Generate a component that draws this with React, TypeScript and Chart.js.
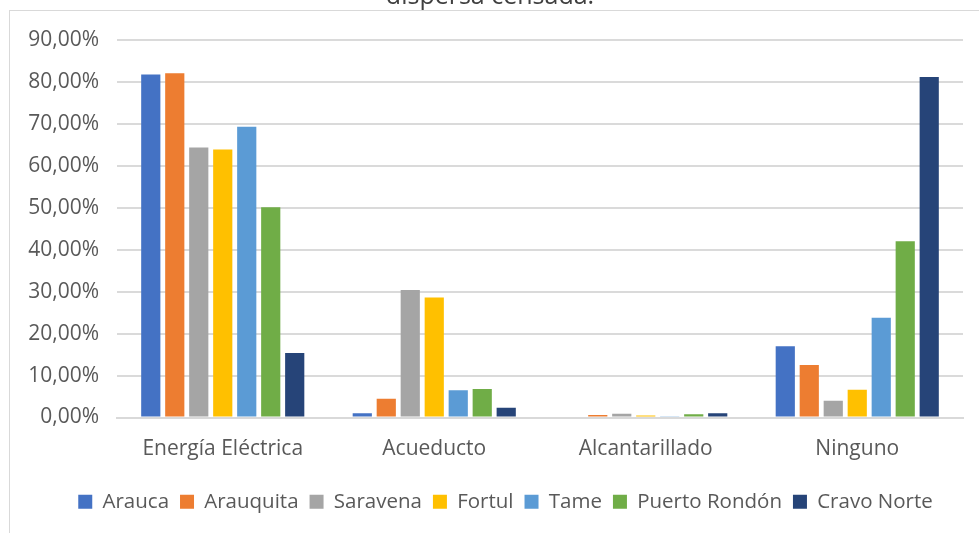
import React, { useEffect, useRef } from "react";
import { Chart, registerables } from "chart.js";

Chart.register(...registerables);

const categories = ["Energía Eléctrica", "Acueducto", "Alcantarillado", "Ninguno"];
const seriesNames = ["Arauca", "Arauquita", "Saravena", "Fortul", "Tame", "Puerto Rondón", "Cravo Norte"];
const arauca = [81.8, 1.0, 0.0, 17.0];
const arauquita = [82.1, 4.5, 0.6, 12.5];
const saravena = [64.4, 30.4, 0.9, 4.0];
const fortul = [63.9, 28.6, 0.5, 6.6];
const tame = [69.3, 6.5, 0.3, 23.8];
const puertoRondon = [50.1, 6.8, 0.8, 42.0];
const cravoNorte = [15.4, 2.3, 1.0, 81.2];
const seriesValues = [arauca, arauquita, saravena, fortul, tame, puertoRondon, cravoNorte];
const colors = ["#4472C4", "#ED7D31", "#A5A5A5", "#FFC000", "#5B9BD5", "#70AD47", "#264478"];
const titleText = "dispersa censada.";

const FONT = "'Open Sans', sans-serif";
const TEXT = "#595959";

export default function App() {
  const ref = useRef<HTMLCanvasElement | null>(null);
  useEffect(() => {
    if (!ref.current) return;
    const titlePlugin = {
      id: "cutTitle",
      afterDraw(chart: any) {
        const ctx = chart.ctx;
        ctx.save();
        ctx.font = `25px ${FONT}`;
        ctx.fillStyle = "#404040";
        ctx.textAlign = "center";
        ctx.textBaseline = "alphabetic";
        ctx.fillText(titleText, 490, 4);
        ctx.restore();
      },
    };
    const legendShift = {
      id: "legendShift",
      afterLayout(chart: any) {
        const l = chart.legend;
        if (l) {
          l.left += 24;
          l.right += 24;
        }
      },
    };
    const chart = new Chart(ref.current, {
      type: "bar",
      data: {
        labels: categories,
        datasets: seriesNames.map((n, i) => ({
          label: n,
          data: seriesValues[i],
          backgroundColor: colors[i],
          borderWidth: 0,
          categoryPercentage: 0.794,
          barPercentage: 0.8,
        })),
      },
      options: {
        animation: false,
        responsive: false,
        maintainAspectRatio: false,
        layout: { padding: { top: 40, left: 0, right: 16, bottom: 11 } },
        plugins: {
          title: { display: false },
          tooltip: { enabled: false },
          legend: {
            position: "bottom",
            labels: {
              boxWidth: 14,
              boxHeight: 14,
              padding: 11,
              color: TEXT,
              font: { family: FONT, size: 20.5 },
            },
          },
        },
        scales: {
          x: {
            grid: { display: false, drawTicks: false },
            border: { color: "#d9d9d9", width: 2 },
            ticks: { color: TEXT, font: { family: FONT, size: 21 }, padding: 19, maxRotation: 0 },
            afterFit(scale: any) {
              scale.height = 63;
            },
          },
          y: {
            min: 0,
            max: 90,
            grid: { color: "#dadada", lineWidth: 2, drawTicks: false },
            border: { display: false },
            ticks: {
              stepSize: 10,
              color: TEXT,
              padding: 18,
              font: { family: FONT, size: 21 },
              callback: (v: any) => Number(v).toFixed(2).replace(".", ",") + "%",
            },
            afterFit(scale: any) {
              scale.width = 117;
            },
          },
        },
      },
      plugins: [titlePlugin, legendShift],
    });
    return () => chart.destroy();
  }, []);
  return (
    <div style={{ position: "fixed", left: 0, top: 0, width: 979, height: 533, background: "#fff", overflow: "hidden" }}>
      <div
        style={{
          position: "absolute",
          left: 9,
          top: 10,
          width: 1000,
          height: 600,
          border: "1px solid #d9d9d9",
          boxSizing: "border-box",
        }}
      />
      <canvas ref={ref} width={979} height={533} style={{ position: "absolute", left: 0, top: 0, width: 979, height: 533 }} />
    </div>
  );
}
